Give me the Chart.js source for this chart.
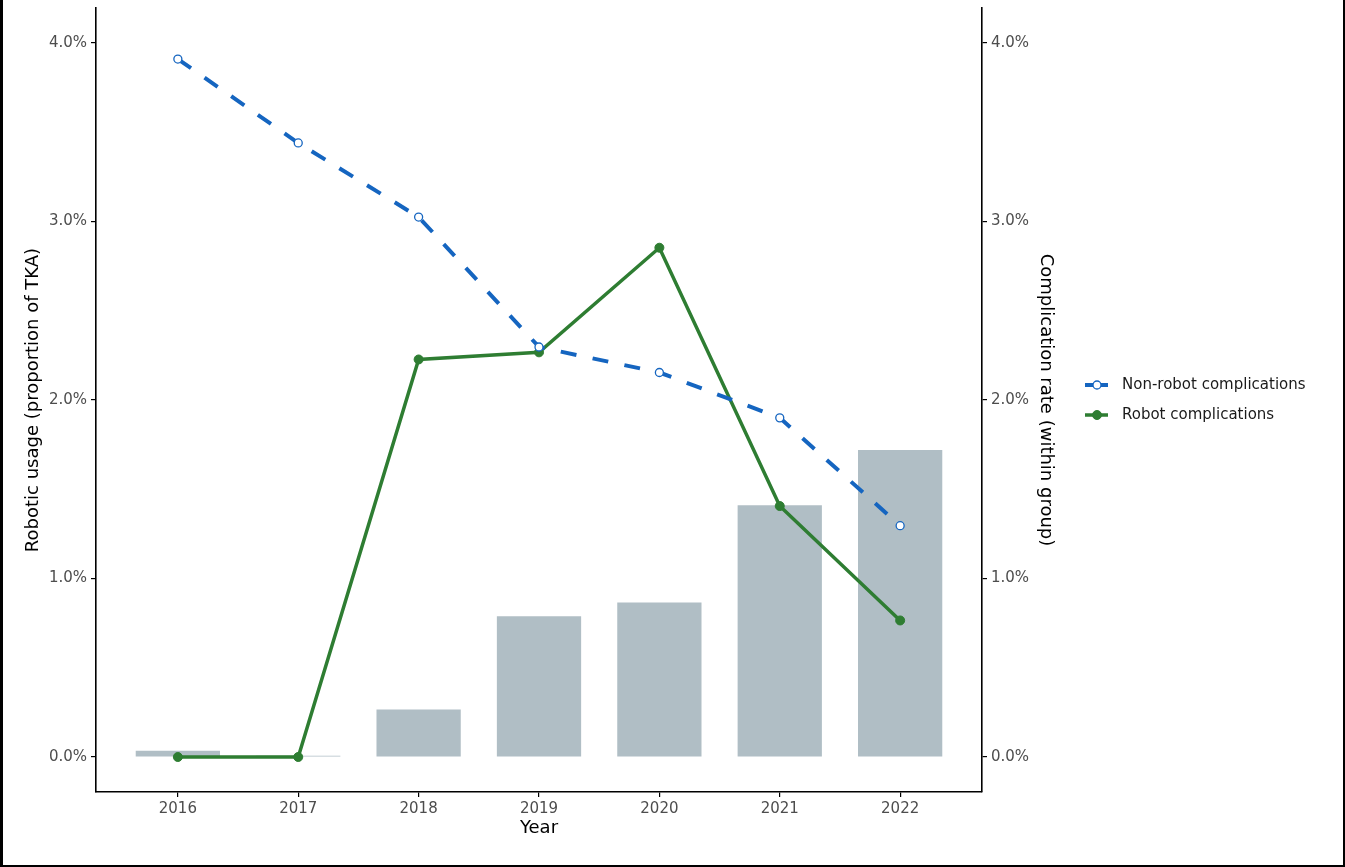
<!DOCTYPE html>
<html>
<head>
<meta charset="utf-8">
<script src="https://cdn.jsdelivr.net/npm/chart.js@4.4.1/dist/chart.umd.min.js"></script>
<style>
  html, body { margin: 0; padding: 0; background: #fff; }
  #wrap { position: relative; width: 1345px; height: 867px; }
  canvas { position: absolute; left: 0; top: 0; }
  #frame {
    position: absolute; left: 0; top: 0; width: 1345px; height: 867px;
    box-sizing: border-box; pointer-events: none;
    border-left: 3px solid #000; border-right: 2px solid #000; border-bottom: 2px solid #000;
  }
</style>
</head>
<body>
<div id="wrap">
  <canvas id="chart" width="1345" height="867"></canvas>
  <div id="frame"></div>
</div>
<script>
// Yearly TKA figures (percent values)
const years = [2016, 2017, 2018, 2019, 2020, 2021, 2022];
const roboticUsage = [0.035, 0.007, 0.266, 0.789, 0.865, 1.41, 1.72];
const nonRobotComplications = [3.91, 3.44, 3.025, 2.297, 2.154, 1.90, 1.296];
const robotComplications = [0, 0, 2.227, 2.267, 2.853, 1.406, 0.765];
const percentTicks = [0, 1, 2, 3, 4];

const seriesNames = ['Non-robot complications', 'Robot complications'];

const BLUE = '#1565C0';
const GREEN = '#2E7D32';
const BAR = '#B0BEC5';
const TICK_COLOR = '#4D4D4D';
const FONT = 'DejaVu Sans';

const pts = (vals) => years.map((y, i) => ({ x: y, y: vals[i] }));
const pctLabel = (v) => v.toFixed(1) + '%';

// Legend drawn as line + point keys, to the right of the plot
const sideLegend = {
  id: 'sideLegend',
  afterDraw(chart) {
    const ctx = chart.ctx;
    const items = [
      { ds: chart.data.datasets[1], y: 385 },
      { ds: chart.data.datasets[2], y: 415 }
    ];
    ctx.save();
    items.forEach(({ ds, y }) => {
      ctx.beginPath();
      ctx.setLineDash([]);
      ctx.lineWidth = ds.borderWidth;
      ctx.strokeStyle = ds.borderColor;
      ctx.moveTo(1085, y);
      ctx.lineTo(1108, y);
      ctx.stroke();
      ctx.beginPath();
      ctx.arc(1097, y, ds.pointRadius, 0, Math.PI * 2);
      ctx.fillStyle = ds.pointBackgroundColor;
      ctx.fill();
      ctx.lineWidth = ds.pointBorderWidth;
      ctx.strokeStyle = ds.pointBorderColor;
      ctx.stroke();
      ctx.fillStyle = '#1a1a1a';
      ctx.font = '15px "' + FONT + '"';
      ctx.textBaseline = 'middle';
      ctx.textAlign = 'left';
      ctx.fillText(ds.label, 1122, y);
    });
    ctx.restore();
  }
};

const yAxisCommon = {
  type: 'linear',
  min: -0.196,
  max: 4.196,
  afterBuildTicks: (axis) => { axis.ticks = percentTicks.map(v => ({ value: v })); },
  ticks: {
    callback: (v) => pctLabel(v),
    color: TICK_COLOR,
    font: { family: FONT, size: 15 },
    padding: 4
  },
  grid: { display: true, drawOnChartArea: false, drawTicks: true, tickLength: 5, color: '#000', lineWidth: 1.2 },
  border: { display: true, color: '#000', width: 1.6 }
};

// Fixed side widths; no extra edge padding for the end tick labels
const fitVertical = (width) => (axis) => {
  axis.width = width;
  axis.paddingTop = 0;
  axis.paddingBottom = 0;
};

new Chart(document.getElementById('chart'), {
  data: {
    datasets: [
      {
        type: 'bar',
        label: 'Robotic usage',
        data: pts(roboticUsage),
        backgroundColor: BAR,
        borderWidth: 0,
        barPercentage: 0.7,
        categoryPercentage: 1.0,
        yAxisID: 'y',
        order: 3
      },
      {
        type: 'line',
        label: seriesNames[0],
        data: pts(nonRobotComplications),
        borderColor: BLUE,
        borderWidth: 4,
        borderDash: [16, 16.5],
        pointRadius: 4,
        pointBackgroundColor: '#fff',
        pointBorderColor: BLUE,
        pointBorderWidth: 1.3,
        tension: 0,
        fill: false,
        yAxisID: 'y1',
        order: 1
      },
      {
        type: 'line',
        label: seriesNames[1],
        data: pts(robotComplications),
        borderColor: GREEN,
        borderWidth: 3.5,
        pointRadius: 4.5,
        pointBackgroundColor: GREEN,
        pointBorderColor: GREEN,
        pointBorderWidth: 1,
        tension: 0,
        fill: false,
        yAxisID: 'y1',
        order: 2
      }
    ]
  },
  options: {
    responsive: false,
    animation: false,
    layout: { padding: { left: 0, top: 8, right: 283, bottom: 15 } },
    plugins: {
      legend: { display: false },
      tooltip: { enabled: false }
    },
    scales: {
      x: {
        type: 'linear',
        position: 'bottom',
        offset: false,
        min: 2015.32,
        max: 2022.68,
        afterBuildTicks: (axis) => { axis.ticks = years.map(v => ({ value: v })); },
        afterFit: (axis) => { axis.height = 60; axis.paddingLeft = 0; axis.paddingRight = 0; },
        ticks: {
          callback: (v) => String(v),
          color: TICK_COLOR,
          font: { family: FONT, size: 15 },
          padding: 3,
          maxRotation: 0
        },
        grid: { display: true, offset: false, drawOnChartArea: false, drawTicks: true, tickLength: 5, color: '#000', lineWidth: 1.2 },
        border: { display: true, color: '#000', width: 1.6 },
        title: {
          display: true,
          text: 'Year',
          color: '#000',
          font: { family: FONT, size: 18 },
          padding: { top: 0, bottom: 13 }
        }
      },
      y: Object.assign({}, yAxisCommon, {
        position: 'left',
        afterFit: fitVertical(96),
        title: {
          display: true,
          text: 'Robotic usage (proportion of TKA)',
          color: '#000',
          font: { family: FONT, size: 18 },
          padding: { top: 23, bottom: 0 }
        }
      }),
      y1: Object.assign({}, yAxisCommon, {
        position: 'right',
        afterFit: fitVertical(80),
        title: {
          display: true,
          text: 'Complication rate (within group)',
          color: '#000',
          font: { family: FONT, size: 18 },
          padding: { top: 6, bottom: 0 }
        }
      })
    }
  },
  plugins: [sideLegend]
});
</script>
</body>
</html>
